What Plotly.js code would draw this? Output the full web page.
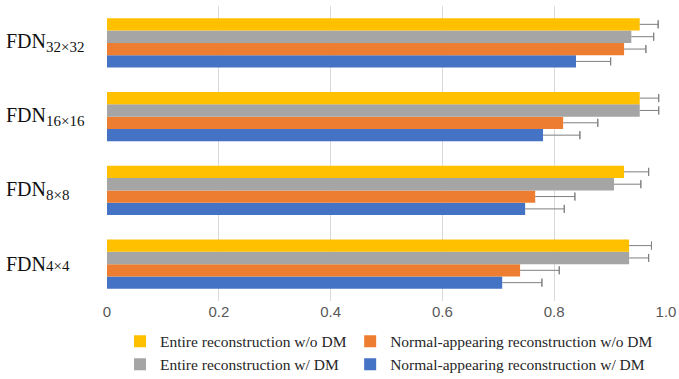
<!DOCTYPE html>
<html>
<head>
<meta charset="utf-8">
<script src="https://cdn.plot.ly/plotly-3.0.1.min.js"></script>
<style>html,body{margin:0;padding:0;background:#fff}#chart{width:679px;height:379px}</style>
</head>
<body>
<div id="chart"></div>
<script>
// Categories from bottom to top
const categories = ['FDN4x4', 'FDN8x8', 'FDN16x16', 'FDN32x32'];
const categoryLabels = [
  'FDN<span style="font-size:15px">4×4</span>',
  'FDN<sub><span style="font-size:15px">8×8</span></sub>',
  'FDN<sub><span style="font-size:15px">16×16</span></sub>',
  'FDN<sub><span style="font-size:15px">32×32</span></sub>'
];

const seriesNames = [
  'Normal-appearing reconstruction w/ DM',
  'Normal-appearing reconstruction w/o DM',
  'Entire reconstruction w/ DM',
  'Entire reconstruction w/o DM'
];
const seriesColors = ['#4472C4', '#ED7D31', '#A5A5A5', '#FFC000'];
const seriesLegend = ['legend2', 'legend2', 'legend', 'legend'];
const legendRanks = [2, 1, 2, 1];

// values (4x4, 8x8, 16x16, 32x32)
const normalWithDM    = [0.707, 0.748, 0.780, 0.839];
const normalWithoutDM = [0.739, 0.766, 0.816, 0.925];
const entireWithDM    = [0.934, 0.907, 0.953, 0.938];
const entireWithoutDM = [0.934, 0.925, 0.953, 0.953];

// positive error (std)
const normalWithDMErr    = [0.071, 0.070, 0.066, 0.062];
const normalWithoutDMErr = [0.070, 0.071, 0.062, 0.039];
const entireWithDMErr    = [0.035, 0.048, 0.034, 0.040];
const entireWithoutDMErr = [0.040, 0.044, 0.034, 0.033];

const xTickVals = [0, 0.2, 0.4, 0.6, 0.8, 1.0];
const xTickText = ['0', '0.2', '0.4', '0.6', '0.8', '1.0'];

const values = [normalWithDM, normalWithoutDM, entireWithDM, entireWithoutDM];
const errors = [normalWithDMErr, normalWithoutDMErr, entireWithDMErr, entireWithoutDMErr];
const errColor = '#7f7f7f';

const traces = [];
values.forEach((v, i) => {
  traces.push({
    type: 'bar', orientation: 'h',
    name: seriesNames[i], y: categories, x: v,
    offsetgroup: 'g' + i, legend: seriesLegend[i], legendrank: legendRanks[i],
    marker: {color: seriesColors[i], line: {width: 0}},
    error_x: {type: 'data', symmetric: false, array: errors[i],
              arrayminus: v.map(() => 0), color: errColor, thickness: 1, width: 0},
    hoverinfo: 'x+name'
  });
});
// caps at the end of the positive error bars
values.forEach((v, i) => {
  traces.push({
    type: 'bar', orientation: 'h', showlegend: false,
    y: categories, x: v.map((d, k) => d + errors[i][k]),
    offsetgroup: 'g' + i,
    marker: {color: 'rgba(0,0,0,0)', line: {width: 0}},
    error_x: {type: 'data', array: v.map(() => 0), color: errColor, thickness: 1, width: 4},
    hoverinfo: 'skip'
  });
});

const annotations = categories.map((c, i) => ({
  xref: 'paper', yref: 'y', x: -0.185, y: c, xanchor: 'left', yanchor: 'middle',
  text: categoryLabels[i], showarrow: false,
  font: {family: 'Liberation Serif, serif', size: 20, color: '#111'}
}));

const legendFont = {family: 'Liberation Serif, serif', size: 15.5, color: '#262626'};

const layout = {
  width: 679, height: 379,
  margin: {l: 107, r: 13, t: 6, b: 78, autoexpand: false},
  paper_bgcolor: '#fff', plot_bgcolor: '#fff',
  barmode: 'group', bargap: 0.33, bargroupgap: 0,
  xaxis: {
    range: [0, 1.0], tickvals: xTickVals, ticktext: xTickText,
    showgrid: true, gridcolor: '#d9d9d9', gridwidth: 1, zeroline: false,
    showline: false, ticks: '',
    tickfont: {family: 'Liberation Sans, Arial, sans-serif', size: 15, color: '#595959'}
  },
  yaxis: {
    type: 'category', categoryorder: 'array', categoryarray: categories,
    showticklabels: false, showgrid: false, zeroline: false, showline: false, ticks: ''
  },
  showlegend: true,
  legend: {
    orientation: 'v', x: 0.0233, xanchor: 'left', y: -0.08, yanchor: 'top',
    traceorder: 'normal', font: legendFont, bgcolor: 'rgba(0,0,0,0)'
  },
  legend2: {
    orientation: 'v', x: 0.435, xanchor: 'left', y: -0.08, yanchor: 'top',
    traceorder: 'normal', font: legendFont, bgcolor: 'rgba(0,0,0,0)'
  },
  annotations: annotations
};

Plotly.newPlot('chart', traces, layout, {displayModeBar: false, staticPlot: true});
</script>
</body>
</html>
